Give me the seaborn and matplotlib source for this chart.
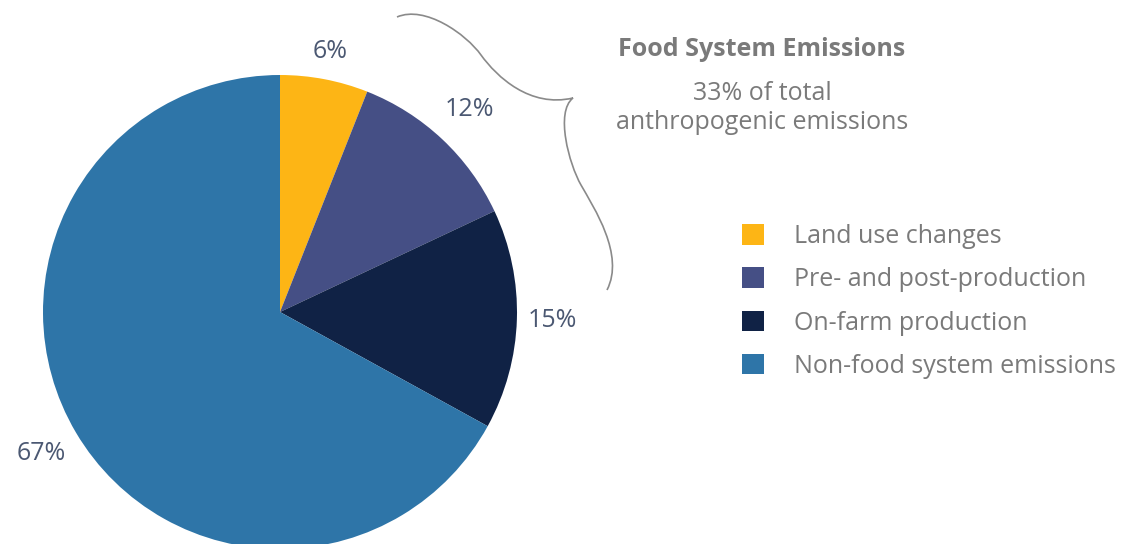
import matplotlib
matplotlib.use("Agg")
import matplotlib.pyplot as plt
import seaborn as sns
import numpy as np
from matplotlib.path import Path
from matplotlib.patches import PathPatch

categories = ["Land use changes", "Pre- and post-production",
              "On-farm production", "Non-food system emissions"]
shares = [6, 12, 15, 67]
colors = ["#FDB515", "#454F85", "#102245", "#2E75A8"]
title_text = "Food System Emissions"
subtitle_text = "33% of total\nanthropogenic emissions"

sns.set_theme(style="white")
plt.rcParams["font.family"] = ["Open Sans", "DejaVu Sans"]
sns.set_palette(colors)

W, H = 1130, 544
fig = plt.figure(figsize=(W / 100, H / 100), dpi=100)

# pie axes: pixel box x 43..517, y 75..549
cx, cy, r = 280, 312, 237
ax = fig.add_axes([(cx - r) / W, (H - (cy + r)) / H, 2 * r / W, 2 * r / H])
wedges = ax.pie(
    shares, colors=sns.color_palette(), startangle=90, counterclock=False,
    radius=1, wedgeprops=dict(linewidth=0),
)[0]
ax.set_xlim(-1, 1)
ax.set_ylim(-1, 1)
ax.set_aspect("equal")
ax.axis("off")

# percentage labels (radial distance per label is a styling choice)
label_dist = [1.12, 1.17, 1.15, 1.17]
cum = 0
for s, d in zip(shares, label_dist):
    mid = 90 - (cum + s / 2) / 100 * 360
    cum += s
    ax.text(d * np.cos(np.radians(mid)), d * np.sin(np.radians(mid)), f"{s}%",
            ha="center", va="center", fontsize=18, color="#4B5872")

# overlay for annotations in pixel coordinates
ov = fig.add_axes([0, 0, 1, 1])
ov.set_xlim(0, W)
ov.set_ylim(H, 0)
ov.axis("off")
ov.patch.set_alpha(0)

verts = [
    (397, 17), (425, 5), (466, 34), (481, 55),
    (497, 77), (530, 108), (573, 98),
    (555, 112), (569, 164), (581, 185),
    (594, 208), (625, 255), (607, 290),
]
codes = [Path.MOVETO] + [Path.CURVE4] * 12
ov.add_patch(PathPatch(Path(verts, codes), fill=False, edgecolor="#8A8A8A", lw=1.2))

ov.text(762, 50, title_text, ha="center", va="center", fontsize=18,
        fontweight="bold", color="#7A7A7A")
ov.text(762, 108, subtitle_text, ha="center", va="center", fontsize=18,
        color="#7A7A7A", linespacing=1.17)

leg = fig.legend(wedges, categories, loc="upper left",
                 bbox_to_anchor=(742 / W, 1 - 224 / H), frameon=False,
                 fontsize=18, handlelength=0.88, handleheight=0.88,
                 handletextpad=1.2, labelspacing=0.73, borderpad=0,
                 borderaxespad=0)
for t in leg.get_texts():
    t.set_color("#7A7A7A")

fig.savefig("out.png", dpi=100)
